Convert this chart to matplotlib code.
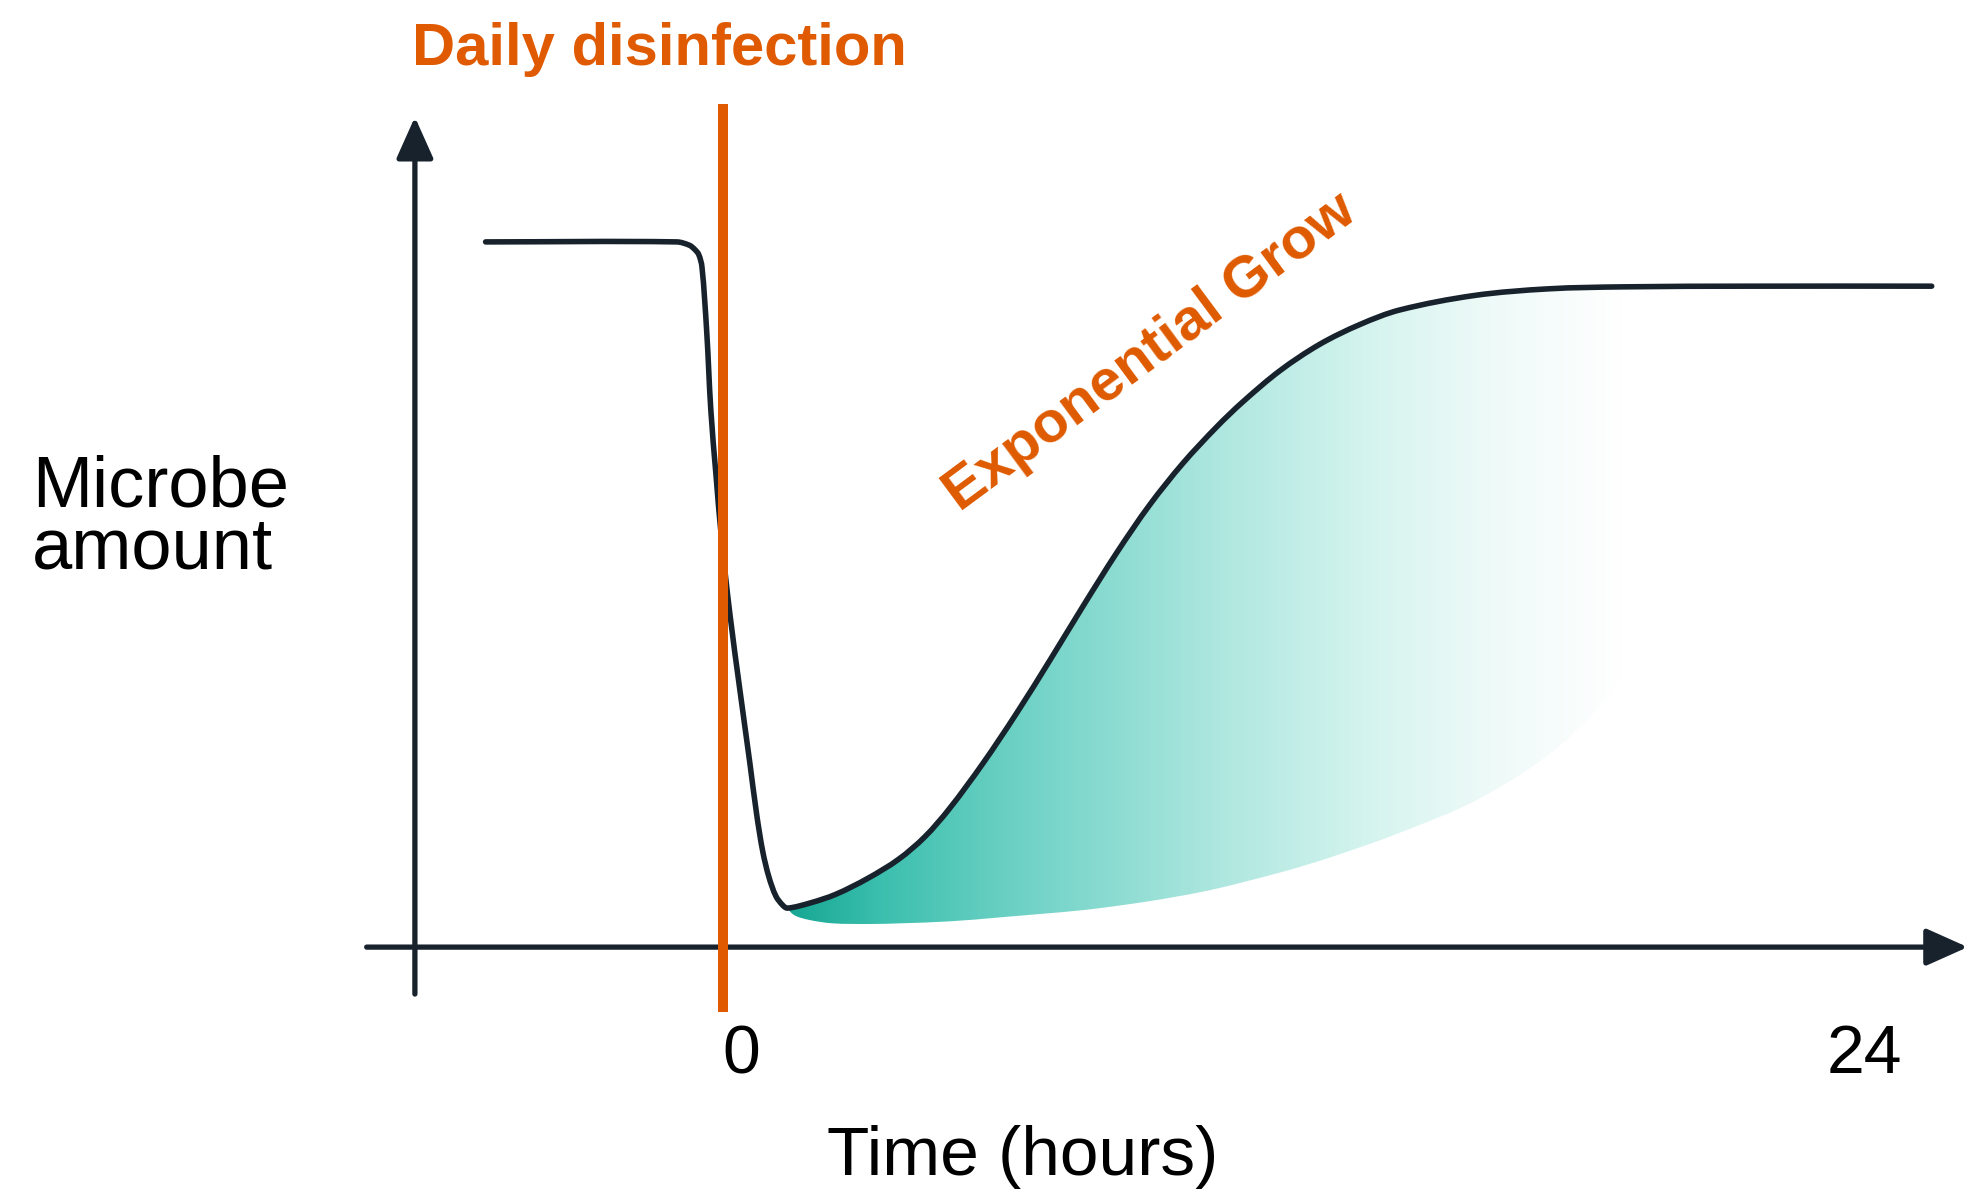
import numpy as np
import matplotlib.pyplot as plt
from matplotlib.patches import PathPatch, FancyArrowPatch
from matplotlib.path import Path
from matplotlib.colors import to_rgb

# Data (hours / relative microbe amount, plateau = 100)
curve_t = [-5.45, -1.37, -1.10, -0.99, -0.90, -0.83, -0.73, -0.64, -0.53,
           -0.41, -0.23, -0.02, 0.19, 0.34, 0.47, 0.60, 0.75, 0.90, 1.00,
           1.49, 2.03, 2.71, 3.37, 3.93, 4.46, 5.17, 5.89, 6.60, 7.30,
           8.03, 8.73, 9.44, 10.16, 10.72, 11.51, 12.36, 13.22, 14.07, 15.67,
           17.25, 18.86, 21.55, 25.43]
curve_amount = [106.7, 106.7, 106.2, 105.6, 104.8, 102.9, 93.3, 81.2, 71.4,
                61.6, 50.2, 38.9, 28.0, 20.0, 14.4, 10.6, 7.7, 6.3, 5.9,
                6.7, 8.0, 10.4, 13.3, 16.7, 21.0, 27.8, 35.4, 43.4, 51.5,
                59.7, 66.9, 73.2, 78.7, 82.5, 87.2, 91.2, 94.2, 96.4, 98.6,
                99.6, 99.9, 100.0, 100.0]

# lower edge of the shaded growth band
band_low_t = [0.98, 1.15, 1.47, 1.96, 2.75, 3.40, 4.46, 5.53, 7.67, 9.80,
              11.57, 12.64, 14.07, 15.78, 17.49, 18.77, 19.73, 20.30, 20.55, 20.9]
band_low_amount = [5.9, 4.8, 4.1, 3.6, 3.5, 3.6, 3.9, 4.5, 5.9, 8.3,
                   11.4, 13.7, 17.3, 22.5, 30.5, 40.5, 54.0, 72.0, 90.0, 99.9]

disinfection_t = -0.38
tick_hours = [0, 24]
tick_labels = ["0", "24"]

# Styles
DARK = "#18222c"
ORANGE = "#df5a00"
FONT = "Liberation Sans"
GRAD_X = [0.9, 3.0, 6.0, 10.0, 13.5, 16.0, 18.8]
GRAD_C = ["#14a592", "#3cbfae", "#6fd2c6", "#abe6de", "#d6f4ef", "#eefaf8", "#ffffff"]

XLIM = (-15.82, 26.59)
YLIM = (-36.9, 143.3)
SX, SY = 46.83, 6.61  # pixels per data unit, used only to shape the bezier handles


def smooth_verts(xs, ys):
    # hermite-style bezier handles through the given points
    p = np.column_stack([np.asarray(xs) * SX, np.asarray(ys) * SY])
    n = len(p)
    tang = np.zeros_like(p)
    for i in range(n):
        d = p[min(i + 1, n - 1)] - p[max(i - 1, 0)]
        tang[i] = d / np.hypot(*d)
    verts = [p[0]]
    for i in range(n - 1):
        seg = np.hypot(*(p[i + 1] - p[i]))
        verts += [p[i] + tang[i] * seg / 3, p[i + 1] - tang[i + 1] * seg / 3, p[i + 1]]
    v = np.array(verts)
    v[:, 0] /= SX
    v[:, 1] /= SY
    return v


fig = plt.figure(figsize=(19.86, 11.91), dpi=100)
ax = fig.add_axes([0, 0, 1, 1])
ax.set_axis_off()

# gradient fill clipped to the growth band
up_t = [t for t in curve_t if 0.95 <= t <= 21.6]
up_a = [a for t, a in zip(curve_t, curve_amount) if 0.95 <= t <= 21.6]
up_v = smooth_verts(up_t, up_a)
lo_v = smooth_verts(band_low_t, band_low_amount)[::-1]
band_verts = np.vstack([up_v, lo_v, up_v[:1]])
band_codes = ([Path.MOVETO] + [Path.CURVE4] * (len(up_v) - 1) + [Path.LINETO]
              + [Path.CURVE4] * (len(lo_v) - 1) + [Path.CLOSEPOLY])
band = PathPatch(Path(band_verts, band_codes), facecolor="none", edgecolor="none")
ax.add_patch(band)
gx = np.linspace(0.9, 21.6, 500)
rgb = np.array([to_rgb(c) for c in GRAD_C])
grad = np.stack([np.interp(gx, GRAD_X, rgb[:, k]) for k in range(3)], axis=-1)
img = np.tile(grad[None, :, :], (2, 1, 1))
im = ax.imshow(img, extent=[0.9, 21.6, 0, 101], aspect="auto", origin="lower",
               interpolation="bilinear", zorder=1)
im.set_clip_path(band)

# the curve
cv = smooth_verts(curve_t, curve_amount)
ax.add_patch(PathPatch(Path(cv, [Path.MOVETO] + [Path.CURVE4] * (len(cv) - 1)),
                       facecolor="none", edgecolor=DARK, lw=4.0,
                       joinstyle="round", capstyle="round", zorder=3))

# axes arrows
arrow_style = "-|>,head_length=0.85,head_width=0.38"
ax.add_patch(FancyArrowPatch((-6.96, -7.1), (-6.96, 125.6), arrowstyle=arrow_style,
                             mutation_scale=30, lw=3.8, color=DARK,
                             shrinkA=0, shrinkB=0, zorder=2))
ax.add_patch(FancyArrowPatch((-7.99, 0), (26.2, 0), arrowstyle=arrow_style,
                             mutation_scale=30, lw=3.8, color=DARK,
                             shrinkA=0, shrinkB=0, zorder=2))

# disinfection line
ax.plot([disinfection_t, disinfection_t], [-9.8, 127.5], color=ORANGE, lw=7.2,
        solid_capstyle="butt", zorder=4)

# texts
ax.text(-1.73, 133.4, "Daily disinfection", color=ORANGE, fontsize=43,
        fontweight="bold", family=FONT, ha="center", va="baseline")
ax.text(8.95, 88.2, "Exponential Grow", color=ORANGE, fontsize=42,
        fontweight="bold", family=FONT, ha="center", va="baseline",
        rotation=36.5, rotation_mode="anchor")
ax.text(-15.14, 66.7, "Microbe", fontsize=52, family=FONT, ha="left", va="baseline")
ax.text(-15.14, 57.3, "amount", fontsize=52, family=FONT, ha="left", va="baseline")
for h, lab in zip(tick_hours, tick_labels):
    ax.text(h, -19.1, lab, fontsize=49, family=FONT, ha="center", va="baseline")
ax.text(6.02, -34.5, "Time (hours)", fontsize=50, family=FONT, ha="center", va="baseline")

ax.set_xlim(*XLIM)
ax.set_ylim(*YLIM)

fig.savefig("out.png", dpi=100)
